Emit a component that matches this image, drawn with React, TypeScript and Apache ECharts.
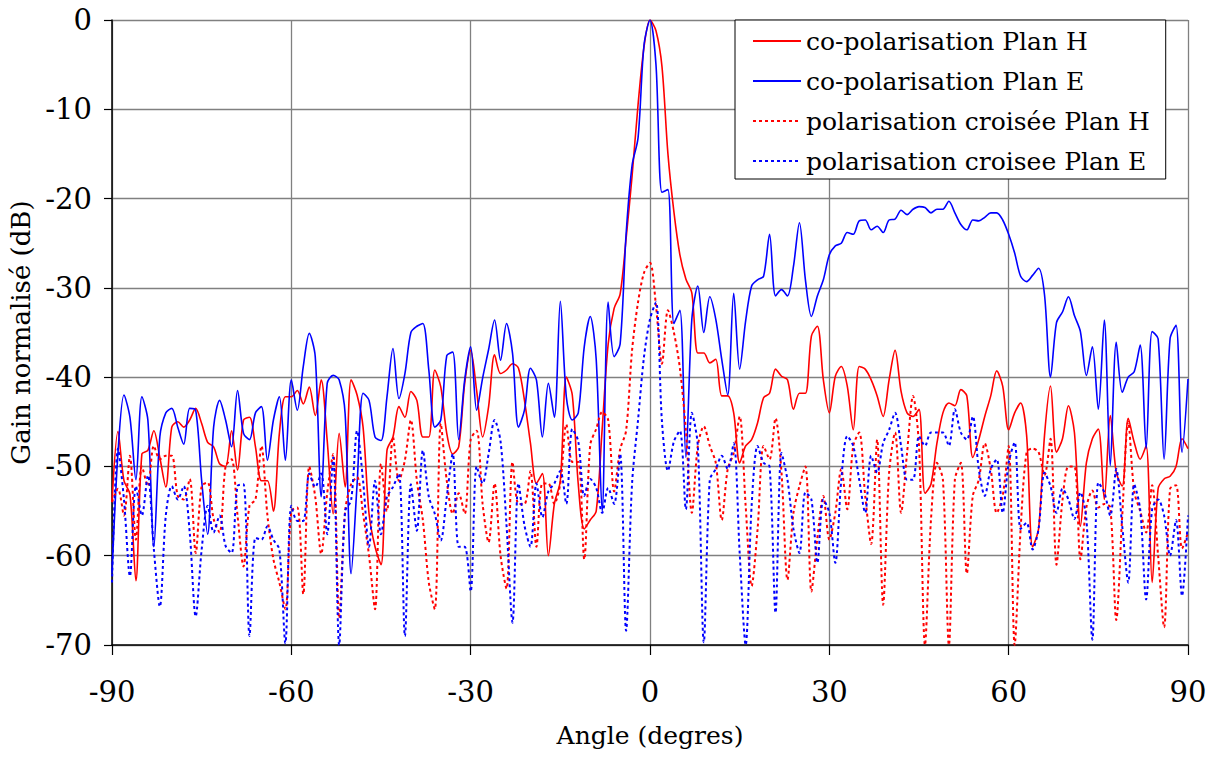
import React, { useEffect, useRef } from "react";
import * as echarts from "echarts";

// Angle sampling grid (degrees), one sample per degree from -90 to 90
const angles: number[] = Array.from({ length: 181 }, (_, i) => i - 90);

const xTicks = [-90, -60, -30, 0, 30, 60, 90];
const yTicks = [0, -10, -20, -30, -40, -50, -60, -70];

const seriesNames = [
  "co-polarisation Plan H",
  "co-polarisation Plan E",
  "polarisation croisée Plan H",
  "polarisation croisee Plan E",
];

// co-polarisation Plan H (red solid)
const coH = [
  -54, -46.1, -51.6, -53.1, -62.8, -48.6, -48.2, -46, -49, -52.3,
  -45.6, -45, -45.6, -44.8, -43.5, -45.2, -47.3, -47.8, -49.7, -50,
  -46, -50.4, -44.8, -44.5, -47.8, -51.6, -51.6, -55, -46.3, -42.2,
  -42.2, -41.5, -43, -41.1, -44.3, -40.3, -47.1, -55.3, -46.3, -52.3,
  -40.3, -42, -45.6, -55.3, -59, -61, -48.2, -46.7, -43.3, -44.5,
  -41.6, -42.6, -46.7, -46.7, -39.2, -41.1, -46.3, -48.6, -47.8, -40.7,
  -37, -41.5, -46.7, -43.3, -37.5, -39.6, -39.2, -38.5, -39, -42.6,
  -47.4, -51.9, -50.8, -60, -54.2, -51.6, -40, -42, -52, -57,
  -56, -55, -45.8, -36.3, -32.3, -30.7, -24.5, -17.5, -9.5, -3,
  0, -1.2, -5.2, -15, -21.5, -26.3, -29, -30.6, -37.3, -37.3,
  -38.4, -38, -42.1, -42.1, -44, -49.6, -47.7, -47, -45.1, -42.3,
  -41.8, -39.1, -39.9, -40.3, -43.6, -41.8, -41.8, -35.4, -34.3, -40.3,
  -44, -39.9, -38.8, -41, -45.9, -38.8, -39.1, -40.3, -42.1, -44.4,
  -40.3, -37, -41.6, -44, -44.4, -43.6, -53, -52, -47.4, -44,
  -42.9, -43.2, -41.4, -42.1, -49, -47, -44.4, -42.1, -39.3, -41,
  -45.9, -44, -42.9, -46.5, -59, -57, -46.5, -41, -48.4, -46.9,
  -43.2, -46.2, -56.7, -49.6, -46.9, -45.8, -53.7, -44.3, -50.7, -52.2,
  -44.6, -47.3, -49.2, -47.7, -63, -52.5, -51.4, -51.1, -50, -46.9,
  -48,
];

// co-polarisation Plan E (blue solid)
const coE = [
  -62, -48.5, -42, -44.5, -51.5, -42.2, -44.8, -59, -46.7, -44,
  -43.5, -45.6, -47.5, -43.5, -43.7, -51.6, -57.6, -45.6, -42.6, -44.8,
  -47.8, -41.5, -46.3, -47, -44, -43.3, -49.3, -44.8, -42.2, -49.3,
  -40.3, -43.7, -38.8, -35.1, -37.7, -53.4, -40.7, -39.8, -40.3, -44.1,
  -62, -52, -41.8, -42.6, -46.7, -47.1, -42.2, -36.8, -42.4, -39.6,
  -35, -34.3, -34, -39.2, -45.6, -44.8, -37.6, -37.2, -47, -40.3,
  -36.6, -43.7, -40.1, -36.9, -33.6, -38.1, -34, -37.3, -45.6, -43.7,
  -39, -40.3, -46.7, -40.7, -44.5, -31.5, -42.2, -44.8, -44, -36.6,
  -33.2, -38, -55, -31.6, -37.7, -36.3, -24, -16.3, -13.2, -2.8,
  0, -5, -19.3, -19, -34, -32.5, -49, -33.5, -29.8, -35,
  -31, -33.5, -38, -42, -30.6, -39.1, -33.7, -29.8, -29.1, -28.7,
  -24, -30.9, -30.2, -30.9, -27.6, -22.7, -29.1, -33.2, -30.9, -29.1,
  -26.3, -25.3, -25, -23.8, -24, -22.5, -22.4, -23.5, -23.1, -23.8,
  -22.4, -22.3, -21.3, -21.8, -21.2, -20.9, -21, -21.6, -21.2, -21.2,
  -20.3, -21.6, -22.9, -23.5, -22.4, -22.5, -22.1, -21.6, -21.6, -22.4,
  -24, -26.1, -28.7, -29.3, -28.6, -27.8, -30.8, -40, -33.9, -32.7,
  -31, -33.1, -34.9, -39.8, -36.6, -43.6, -33.6, -49.9, -36.1, -41.7,
  -40, -39.4, -36.4, -48, -34.9, -35.7, -49.2, -35.7, -34.2, -48.4,
  -40.2,
];

// polarisation croisée Plan H (red dotted)
const crossH = [
  -54, -52.5, -55.5, -48.8, -58.2, -50, -52.2, -47.7, -49.2, -48.8,
  -48.8, -53.3, -53.7, -51.4, -59.7, -52.2, -51.8, -55.9, -57.4, -50,
  -49.2, -55.5, -61.2, -54.4, -53.7, -47.7, -55.5, -60.4, -63, -66,
  -55, -54.6, -64.3, -50, -53.4, -59.8, -53, -48.6, -67, -55,
  -52, -51.2, -55.3, -60, -66, -49.7, -55, -46.7, -51.6, -49.3,
  -44.8, -51.6, -56, -63, -66, -45.2, -51.6, -55.3, -53, -55.3,
  -47, -46, -54.2, -58.5, -51.9, -60, -63.7, -49.5, -54.2, -54.2,
  -50.5, -59, -51.9, -51.9, -54.2, -51.9, -45.3, -49.5, -49.5, -60.4,
  -47.6, -45.8, -43.9, -44.8, -52.8, -48.1, -46, -37, -31.6, -28.3,
  -27.2, -32, -38.5, -32.5, -35, -39, -45.9, -55.2, -47.7, -45.5,
  -47.7, -49.6, -56, -50.3, -48.5, -44.4, -54.4, -63.4, -57, -47.7,
  -49.2, -44.6, -50.7, -62.7, -55.2, -52.2, -50, -64, -58, -53.3,
  -58.2, -55.2, -50.3, -54.8, -47.7, -46.2, -53.3, -58.7, -47, -65.5,
  -50.7, -46.2, -55.2, -48.5, -42.1, -47.7, -70, -56, -49.6, -51.5,
  -70, -51.5, -49.6, -62, -53.3, -51.5, -47.4, -50.3, -55.2, -53.3,
  -47.7, -70, -57, -48.4, -48, -48.4, -51, -46.9, -61, -53.8,
  -50, -50, -60.4, -54.6, -52.7, -54.6, -54.2, -54.6, -67.2, -55.5,
  -45, -52.8, -55, -57.4, -52.1, -60, -68, -52.5, -52.1, -59.2,
  -57.4,
];

// polarisation croisee Plan E (blue dotted)
const crossE = [
  -63, -48, -53.7, -62.3, -52.2, -55.5, -51, -59.3, -65.7, -55.5,
  -52.2, -53.7, -52.2, -57.4, -66.8, -59.3, -54.4, -57.4, -55.5, -58.9,
  -59.7, -52.2, -52, -69, -58, -58.2, -56.7, -58.2, -59.3, -69.8,
  -54.4, -56.1, -56.1, -50.8, -52.3, -50.8, -57.6, -49, -70, -55,
  -53.8, -46, -51.6, -59, -51.6, -57.6, -53.4, -52.3, -50.8, -69,
  -52, -57.2, -48.2, -53.4, -55.3, -58.3, -53.4, -48.6, -59, -59,
  -64, -50, -51.9, -48.6, -44.8, -47.2, -56.6, -67.5, -51.9, -56.6,
  -59, -51.9, -55.7, -52.8, -51.9, -50.5, -54.2, -45.8, -47.2, -53.3,
  -51.4, -52.4, -55.2, -52.4, -54.2, -48.6, -68.4, -51.9, -44.8, -37.7,
  -33.5, -31.6, -45, -50.5, -47.2, -46, -54.8, -44, -47.7, -69.7,
  -51.5, -50.3, -48.8, -50.3, -47.4, -59.7, -70, -54.4, -47.7, -49.6,
  -50, -66.4, -48.5, -51.5, -57, -59.7, -52.9, -53.7, -60.8, -53.7,
  -55.2, -60.8, -51.5, -46.6, -47.7, -51.5, -55.2, -48.8, -50.7, -47.4,
  -45.9, -44, -47.7, -51.5, -51.5, -46.6, -47.7, -46.2, -46.2, -46.2,
  -47.7, -43.6, -46.2, -47, -44.4, -50.3, -53.3, -50.3, -49.2, -55.2,
  -49.6, -47.3, -57, -56.3, -59.3, -57, -50.7, -52.2, -55.2, -52.5,
  -53.7, -55.9, -52.9, -55.9, -69.4, -51.8, -52.9, -55.5, -50.3, -56.7,
  -63, -52, -54.8, -64.9, -54.8, -53.7, -55.5, -60, -56, -64.5,
  -55.5,
];

const FONT = "DejaVu Serif";

export default function App() {
  const ref = useRef<HTMLDivElement>(null);

  useEffect(() => {
    if (!ref.current) return;
    const chart = echarts.init(ref.current, null, { renderer: "svg" });
    const pair = (vals: number[]) => angles.map((a, i) => [a, vals[i]]);

    const mk = (name: string, vals: number[], color: string, dotted: boolean, z: number) => ({
      name,
      type: "line",
      data: pair(vals),
      symbol: "none",
      showSymbol: false,
      smooth: 0.3,
      z,
      itemStyle: { color },
      lineStyle: dotted
        ? { color, width: 2, type: [3, 3] }
        : { color, width: 1.6, type: "solid" },
    });

    chart.setOption({
      animation: false,
      backgroundColor: "#ffffff",
      textStyle: { fontFamily: FONT },
      grid: { left: 112, right: 22, top: 20, bottom: 113, containLabel: false },
      xAxis: {
        type: "value",
        min: xTicks[0],
        max: xTicks[xTicks.length - 1],
        interval: 30,
        name: "Angle (degres)",
        nameLocation: "middle",
        nameGap: 78,
        nameTextStyle: { fontSize: 25, color: "#000", fontFamily: FONT },
        axisLine: { onZero: false, lineStyle: { color: "#000", width: 1.5 } },
        axisTick: { show: true, length: 10, lineStyle: { color: "#000", width: 1.2 } },
        axisLabel: { margin: 32, fontSize: 29, color: "#000", fontFamily: FONT },
        splitLine: { show: true, lineStyle: { color: "#808080", width: 1.3 } },
      },
      yAxis: {
        type: "value",
        min: yTicks[yTicks.length - 1],
        max: yTicks[0],
        interval: 10,
        name: "Gain normalisé (dB)",
        nameLocation: "middle",
        nameGap: 74,
        nameTextStyle: { fontSize: 26, color: "#000", fontFamily: FONT },
        axisLine: { show: true, onZero: false, lineStyle: { color: "#000", width: 1.5 } },
        axisTick: { show: true, length: 8, lineStyle: { color: "#000", width: 1.2 } },
        axisLabel: { margin: 20, fontSize: 29, color: "#000", fontFamily: FONT },
        splitLine: { show: true, lineStyle: { color: "#808080", width: 1.3 } },
      },
      legend: {
        orient: "vertical",
        left: 735,
        top: 20,
        padding: [7, 16, 4, 17],
        itemGap: 12,
        itemWidth: 48,
        itemHeight: 14,
        itemStyle: { opacity: 0 },
        backgroundColor: "#ffffff",
        borderColor: "#000",
        borderWidth: 1,
        borderRadius: 0,
        textStyle: { fontSize: 25, color: "#000", fontFamily: FONT, lineHeight: 28 },
        data: seriesNames,
      },
      series: [
        mk(seriesNames[0], coH, "#ff0000", false, 2),
        mk(seriesNames[1], coE, "#0000ff", false, 3),
        mk(seriesNames[2], crossH, "#ff0000", true, 4),
        mk(seriesNames[3], crossE, "#0000ff", true, 5),
      ],
    });

    return () => chart.dispose();
  }, []);

  return (
    <div
      ref={ref}
      style={{ position: "absolute", left: 0, top: 0, width: 1210, height: 758 }}
    />
  );
}
